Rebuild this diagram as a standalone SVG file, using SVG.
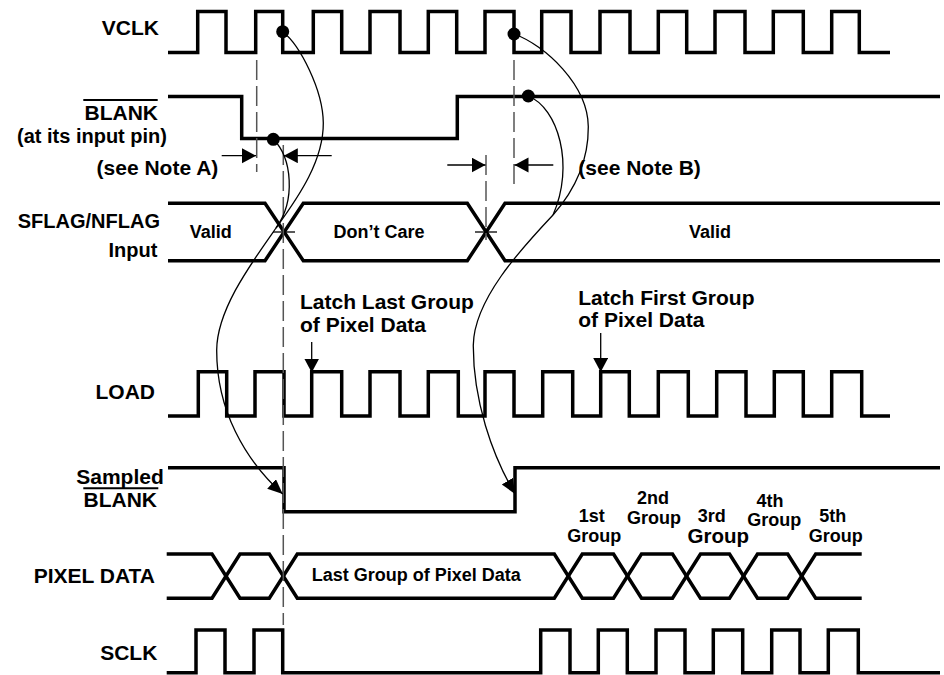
<svg xmlns="http://www.w3.org/2000/svg" width="944" height="675" viewBox="0 0 944 675">
<style>
.w{fill:none;stroke:#000;stroke-width:3.5;stroke-linejoin:miter}
.d{fill:none;stroke:#555;stroke-width:1.5;stroke-dasharray:20 6}
.c{fill:none;stroke:#000;stroke-width:1.3}
.t{font-family:"Liberation Sans",Arial,Helvetica,sans-serif;font-weight:bold;font-size:21px;fill:#000}
.s{font-size:18px}
.dot{fill:#000}
</style>
<defs>
<marker id="ah" markerUnits="userSpaceOnUse" markerWidth="16" markerHeight="14" refX="15" refY="6.5" orient="auto"><path d="M0,0 L15,6.5 L0,13 z" fill="#000"/></marker>
<marker id="an" markerUnits="userSpaceOnUse" markerWidth="15" markerHeight="16" refX="14" refY="7.5" orient="auto"><path d="M0,0 L14,7.5 L0,15 z" fill="#000"/></marker>
</defs>
<rect width="944" height="675" fill="#fff"/>

<g id="vclk">
<text class="t" x="159" y="35" text-anchor="end">VCLK</text>
<path class="w" d="M168,52.5 H197.7 V11.5 H226 V52.5 H255.7 V11.5 H282.7 V52.5 H313.3 V11.5 H341.7 V52.5 H370 V11.5 H400 V52.5 H428.3 V11.5 H456.7 V52.5 H485 V11.5 H514 V52.5 H541.7 V11.5 H571 V52.5 H600 V11.5 H630 V52.5 H658.3 V11.5 H686.7 V52.5 H715 V11.5 H745 V52.5 H773.3 V11.5 H803.3 V52.5 H831.7 V11.5 H859.3 V52.5 H890"/>
</g>

<g id="blank">
<text class="t" x="158" y="120" text-anchor="end">BLANK</text>
<line x1="83.3" y1="100" x2="157.7" y2="100" stroke="#000" stroke-width="2"/>
<text class="t" x="167" y="143" text-anchor="end" style="font-size:20px">(at its input pin)</text>
<path class="w" d="M168,96.5 H241.7 V138.5 H457.3 V96.5 H940"/>
</g>

<g id="notes">
<text class="t" x="218.3" y="175" text-anchor="end">(see Note A)</text>
<text class="t" x="578.3" y="175">(see Note B)</text>
</g>

<g id="sflag">
<text class="t" x="160" y="227.5" text-anchor="end" style="font-size:20px">SFLAG/NFLAG</text>
<text class="t" x="157.3" y="256.5" text-anchor="end" style="font-size:20px">Input</text>
<path class="w" d="M168,203.3 H265 L303.3,260.7 H467.3 L505,203.3 H940"/>
<path class="w" d="M168,260.7 H265 L303.3,203.3 H467.3 L505,260.7 H940"/>
<text class="t s" x="210.8" y="238" text-anchor="middle">Valid</text>
<text class="t s" x="379" y="238" text-anchor="middle">Don’t Care</text>
<text class="t s" x="710" y="238" text-anchor="middle">Valid</text>
<line class="c" x1="273" y1="232" x2="295" y2="232"/>
<line class="c" x1="475" y1="232" x2="497" y2="232"/>
</g>

<g id="latch-labels">
<text class="t" x="300" y="309.3">Latch Last Group</text>
<text class="t" x="300" y="331.7">of Pixel Data</text>
<text class="t" x="578.3" y="305">Latch First Group</text>
<text class="t" x="578.3" y="326.7">of Pixel Data</text>
</g>

<g id="load">
<text class="t" x="155" y="399.3" text-anchor="end">LOAD</text>
<path class="w" d="M168,416 H198.3 V371.7 H226.7 V416 H255 V371.7 H284 V416 H311.7 V371.7 H341.7 V416 H370 V371.7 H400 V416 H428.3 V371.7 H458.3 V416 H485 V371.7 H514 V416 H542.7 V371.7 H572.7 V416 H600.7 V371.7 H629.3 V416 H658.3 V371.7 H688.3 V416 H716.7 V371.7 H746 V416 H774.3 V371.7 H803.3 V416 H831.7 V371.7 H861.7 V416 H890"/>
</g>

<g id="sampled-blank">
<text class="t" x="120" y="484" text-anchor="middle">Sampled</text>
<line x1="83.3" y1="488.3" x2="158.3" y2="488.3" stroke="#000" stroke-width="2"/>
<text class="t" x="120.3" y="507.3" text-anchor="middle">BLANK</text>
<path class="w" d="M168,467.7 H284 V511.7 H515 V467.7 H940"/>
</g>

<g id="group-labels">
<text class="t s" x="591.7" y="521.7" text-anchor="middle">1st</text>
<text class="t s" x="594.3" y="541.7" text-anchor="middle">Group</text>
<text class="t s" x="653" y="504.3" text-anchor="middle">2nd</text>
<text class="t s" x="654" y="524" text-anchor="middle">Group</text>
<text class="t s" x="711.7" y="521.7" text-anchor="middle">3rd</text>
<text class="t" x="718.3" y="543.3" text-anchor="middle" style="font-size:20.5px">Group</text>
<text class="t s" x="770" y="506.7" text-anchor="middle">4th</text>
<text class="t s" x="774.3" y="526" text-anchor="middle">Group</text>
<text class="t s" x="832.7" y="521.7" text-anchor="middle">5th</text>
<text class="t s" x="835.7" y="541.7" text-anchor="middle">Group</text>
</g>

<g id="pixel-data">
<text class="t" x="155" y="583.3" text-anchor="end">PIXEL DATA</text>
<path class="w" d="M166.7,554 H212 L240,598.3 H269.3 L297.3,554 H554.3 L582.3,598.3 H613.5 L641.5,554 H672.5 L700.5,598.3 H729.5 L757.5,554 H787.7 L815.7,598.3 H861.7"/>
<path class="w" d="M166.7,598.3 H212 L240,554 H269.3 L297.3,598.3 H554.3 L582.3,554 H613.5 L641.5,598.3 H672.5 L700.5,554 H729.5 L757.5,598.3 H787.7 L815.7,554 H861.7"/>
<text class="t s" x="311.7" y="581">Last Group of Pixel Data</text>
</g>

<g id="sclk">
<text class="t" x="157.3" y="660" text-anchor="end">SCLK</text>
<path class="w" d="M166.7,672.7 H196 V630 H225 V672.7 H254 V630 H282.7 V672.7 H540.7 V630 H570 V672.7 H598.3 V630 H627.3 V672.7 H656 V630 H685 V672.7 H713.3 V630 H742.7 V672.7 H771.7 V630 H800 V672.7 H828.3 V630 H858.3 V672.7 H940"/>
</g>

<g id="connectors">
<line class="d" x1="256.7" y1="60" x2="256.7" y2="172"/>
<line class="d" x1="283.3" y1="145" x2="283.3" y2="625"/>
<line class="d" x1="486" y1="155" x2="486" y2="240"/>
<line class="d" x1="514" y1="60" x2="514" y2="185"/>

<line class="c" x1="221.7" y1="155.7" x2="256" y2="155.7" marker-end="url(#an)"/>
<line class="c" x1="331.7" y1="155.7" x2="283.8" y2="155.7" marker-end="url(#an)"/>
<line class="c" x1="447.3" y1="165" x2="485.5" y2="165" marker-end="url(#an)"/>
<line class="c" x1="553.3" y1="165" x2="514.5" y2="165" marker-end="url(#an)"/>

<line class="c" x1="311.7" y1="342" x2="311.7" y2="372.5" marker-end="url(#an)"/>
<line class="c" x1="600.7" y1="333" x2="600.7" y2="372" marker-end="url(#an)"/>

<path class="c" d="M282.7,31.7 C300,45 323,90 323.3,123 C323.5,160 300,195 276,228"/>
<path class="c" d="M273.3,139.3 C292,158 296,200 276,228"/>
<path class="c" d="M276,228 C250,265 217,310 216.7,350 C216.5,410 245,460 282.7,494" marker-end="url(#ah)"/>

<path class="c" d="M514,34 C545,45 588,85 588.3,126.7 C588.5,160 575,190 553,215"/>
<path class="c" d="M528.3,96 C558,108 575,165 553,215"/>
<path class="c" d="M553,215 C520,250 474,300 473.3,345 C473,400 492,455 515,494" marker-end="url(#ah)"/>

<circle class="dot" cx="282.7" cy="31.7" r="6.5"/>
<circle class="dot" cx="273.3" cy="139.3" r="6.5"/>
<circle class="dot" cx="514" cy="34" r="6.5"/>
<circle class="dot" cx="528.3" cy="96" r="6.5"/>
</g>
</svg>
